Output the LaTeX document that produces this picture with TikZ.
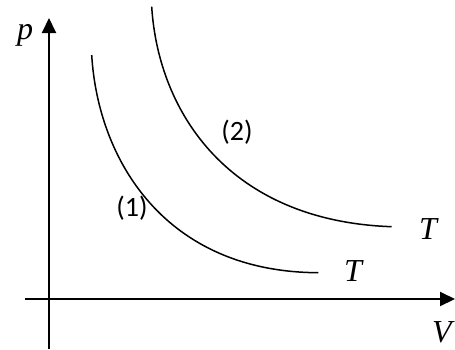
\documentclass[tikz,border=0pt]{standalone}
\usepackage{fontspec}
\newfontfamily\lblfont{Carlito}
\newfontfamily\varfont{Liberation Serif}
\usetikzlibrary{arrows.meta}
\begin{document}
\begin{tikzpicture}[x=1pt,y=-1pt,
  axis/.style={line width=2pt,-{Triangle[length=15pt,width=14pt]}},
  iso/.style={line width=1.5pt},
  mathlbl/.style={inner sep=0pt,font=\varfont\itshape\fontsize{32}{36}\selectfont},
  numlbl/.style={inner sep=0pt,font=\lblfont\fontsize{28}{32}\selectfont}]
\useasboundingbox (0,0) rectangle (455,349);
% axes
\coordinate (ybot) at (49,349);
\coordinate (ytop) at (49,18);
\coordinate (xleft) at (25,299);
\coordinate (xright) at (455,299);
\draw[axis] (ybot) -- (ytop);
\draw[axis] (xleft) -- (xright);
\node[mathlbl] (plbl) at (25,35) {p};
\node[mathlbl] (vlbl) at (442,332) {V};
% isotherm (1)
\coordinate (a1) at (91.7,55);
\coordinate (b1) at (318.3,272.7);
\draw[iso] (a1) .. controls (98,160) and (165,272) .. (b1);
% isotherm (2)
\coordinate (a2) at (151.7,6.7);
\coordinate (b2) at (391.7,226.7);
\draw[iso] (a2) .. controls (158.4,112.7) and (229,221) .. (b2);
\node[mathlbl] (t1) at (353,271) {T};
\node[mathlbl] (t2) at (428,229) {T};
\node[numlbl] (n1) at (132,208) {(1)};
\node[numlbl] (n2) at (237,132) {(2)};
\end{tikzpicture}
\end{document}
